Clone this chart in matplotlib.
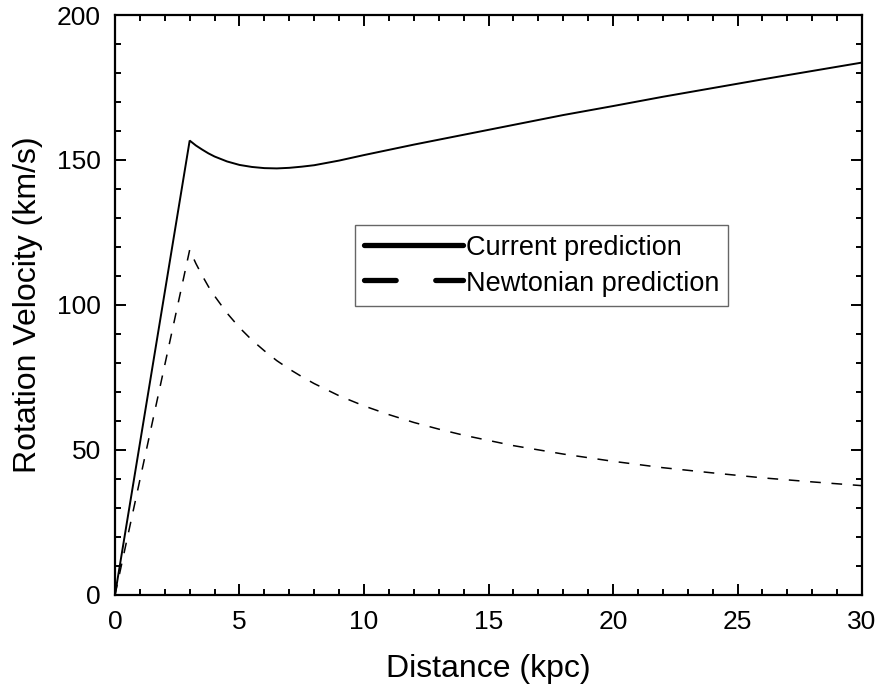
import matplotlib
matplotlib.use("Agg")
import matplotlib.pyplot as plt
from matplotlib.lines import Line2D
from matplotlib.ticker import MultipleLocator

plt.rcParams['font.family'] = ['Liberation Sans', 'DejaVu Sans']

# Data
dist_current = [0, 3, 3.25, 3.5, 3.75, 4, 4.5, 5, 5.5, 6, 6.5, 7, 7.5, 8, 9, 10, 11, 12,
                14, 16, 18, 20, 22, 24, 26, 28, 30]
vel_current = [0, 156.7, 155.0, 153.6, 152.3, 151.2, 149.5, 148.3, 147.6, 147.2, 147.1,
               147.3, 147.7, 148.2, 149.8, 151.7, 153.5, 155.3, 158.7, 162.1, 165.5,
               168.6, 171.8, 174.8, 177.8, 180.7, 183.6]

dist_newton = [0, 3, 3.25, 3.5, 3.75, 4, 4.5, 5, 5.5, 6, 6.5, 7, 7.5, 8, 9, 10, 11, 12,
               13, 14, 16, 18, 20, 22, 24, 26, 28, 30]
vel_newton = [0, 119, 114.3, 110.2, 106.4, 103.1, 97.2, 92.2, 87.9, 84.2, 80.8, 77.9,
              75.3, 72.9, 68.7, 65.2, 62.2, 59.5, 57.2, 55.1, 51.5, 48.6, 46.1, 43.9,
              42.1, 40.4, 39.0, 37.7]

x_ticks = [0, 5, 10, 15, 20, 25, 30]
y_ticks = [0, 50, 100, 150, 200]
labels = ["Current prediction", "Newtonian prediction"]

fig = plt.figure(figsize=(8.79, 6.85), dpi=100)
ax = fig.add_axes([0.1308, 0.1314, 0.8499, 0.8467])

ax.plot(dist_current, vel_current, color='black', lw=1.4, solid_joinstyle='miter')
ax.plot(dist_newton, vel_newton, color='black', lw=1.1, dashes=(7, 7))

ax.set_xlim(0, 30)
ax.set_ylim(0, 200)
ax.set_xticks(x_ticks)
ax.set_yticks(y_ticks)
ax.xaxis.set_minor_locator(MultipleLocator(1))
ax.yaxis.set_minor_locator(MultipleLocator(10))
ax.tick_params(which='both', direction='in', top=True, right=True, width=1.4, colors='black')
ax.tick_params(which='major', length=8, labelsize=19)
ax.tick_params(axis='x', which='major', pad=11)
ax.tick_params(axis='y', which='major', pad=10)
ax.tick_params(which='minor', length=4.5)
for s in ax.spines.values():
    s.set_linewidth(1.6)

ax.set_xlabel("Distance (kpc)", fontsize=23, labelpad=14)
ax.set_ylabel("Rotation Velocity (km/s)", fontsize=23, labelpad=10)

handles = [
    Line2D([0], [0], color='black', lw=3.8, solid_capstyle='round'),
    Line2D([0], [0], color='black', lw=3.8, dashes=(6.0, 7.5), dash_capstyle='round'),
]
leg = ax.legend(handles, labels, loc='upper left', bbox_to_anchor=(0.321, 0.638),
                borderaxespad=0, fontsize=19.5, handlelength=3.65, handletextpad=0.12,
                handleheight=1.0, borderpad=0.33, labelspacing=0.3, fancybox=False,
                framealpha=1, edgecolor='#666666')
leg.get_frame().set_linewidth(1.0)

fig.savefig("out.png", dpi=100)
